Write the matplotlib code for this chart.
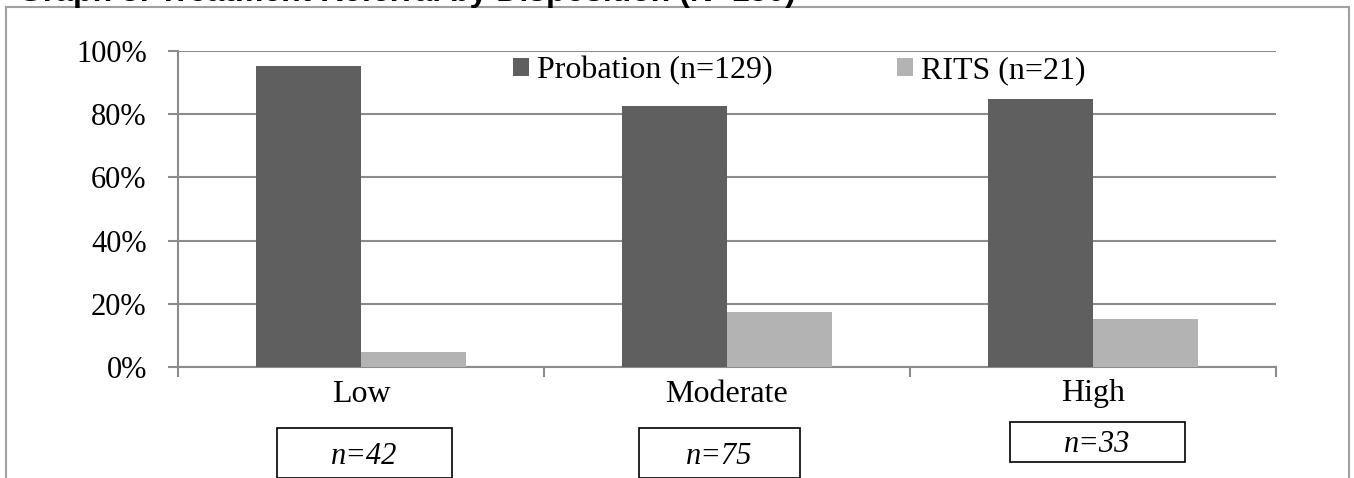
import matplotlib
matplotlib.use("Agg")
import matplotlib.pyplot as plt
from matplotlib.patches import Rectangle
import numpy as np

categories = ["Low", "Moderate", "High"]
group_n = ["n=42", "n=75", "n=33"]
probation = [95.2, 82.7, 84.8]
rits = [4.8, 17.3, 15.2]
series_names = ["Probation (n=129)", "RITS (n=21)"]
title = "Graph 3: Treatment Referral by Disposition (N=150)"

W, H = 1354, 478
DARK = "#5f5f5f"
LIGHT = "#b3b3b3"
GRID = "#8c8c8c"
serif = ["Liberation Serif", "DejaVu Serif"]


def fx(px):
    return px / W


def fy(py):
    return 1 - py / H


fig = plt.figure(figsize=(W / 100, H / 100), dpi=100)
ax = fig.add_axes([fx(178), fy(367), fx(1276) - fx(178), fy(51) - fy(367)])

x = np.arange(len(categories))
bw = 0.287
ax.bar(x - bw / 2, probation, bw, color=DARK, label=series_names[0], zorder=3)
ax.bar(x + bw / 2, rits, bw, color=LIGHT, label=series_names[1], zorder=3)

ax.set_xlim(-0.5, len(categories) - 0.5)
ax.set_ylim(0, 100)
ax.set_yticks(np.arange(0, 101, 20))
ax.set_yticklabels([f"{v}%" for v in range(0, 101, 20)], fontfamily=serif, fontsize=22)
ax.yaxis.grid(True, color=GRID, linewidth=1.5, zorder=0)
ax.tick_params(axis="y", direction="out", length=7.5, width=1.5, color=GRID, pad=15)

ax.set_xticks(x)
ax.set_xticklabels(categories, fontfamily=serif, fontsize=23)
ax.set_xticks(np.arange(-0.5, len(categories)), minor=True)
ax.tick_params(axis="x", which="major", length=0, pad=9)
ax.tick_params(axis="x", which="minor", direction="out", length=7, width=1.5, color=GRID)

for side in ["top", "right"]:
    ax.spines[side].set_visible(False)
for side in ["left", "bottom"]:
    ax.spines[side].set_color(GRID)
    ax.spines[side].set_linewidth(1.5)

leg = ax.legend(loc="center left", bbox_to_anchor=(fx(513), fy(71)), bbox_transform=fig.transFigure,
                ncol=2, frameon=False, prop={"family": serif, "size": 23},
                handlelength=0.5, handleheight=0.5, handletextpad=0.25,
                columnspacing=3.9, borderpad=0, borderaxespad=0)

# n= boxes under the category labels
box_geom = [(277, 428, 175, 50), (639, 428, 161, 50), (1010, 422, 175, 40)]
for (bx, by, bwid, bh), lab in zip(box_geom, group_n):
    fig.add_artist(Rectangle((fx(bx), fy(by + bh)), bwid / W, bh / H, transform=fig.transFigure,
                             fill=False, edgecolor="black", linewidth=1.2))
    fig.text(fx(bx + bwid / 2), fy(by + bh / 2 + 3), lab, ha="center", va="center",
             fontfamily=serif, fontstyle="italic", fontsize=22)

# outer chart-area border
fig.add_artist(Rectangle((fx(6), -0.1), fx(1349) - fx(6), fy(7) + 0.1, transform=fig.transFigure,
                         fill=False, edgecolor="#a0a0a0", linewidth=1.5))

fig.text(fx(18), fy(1), title, ha="left", va="baseline", fontfamily="Liberation Sans",
         fontweight="bold", fontsize=23)

fig.savefig("out.png", dpi=100)
